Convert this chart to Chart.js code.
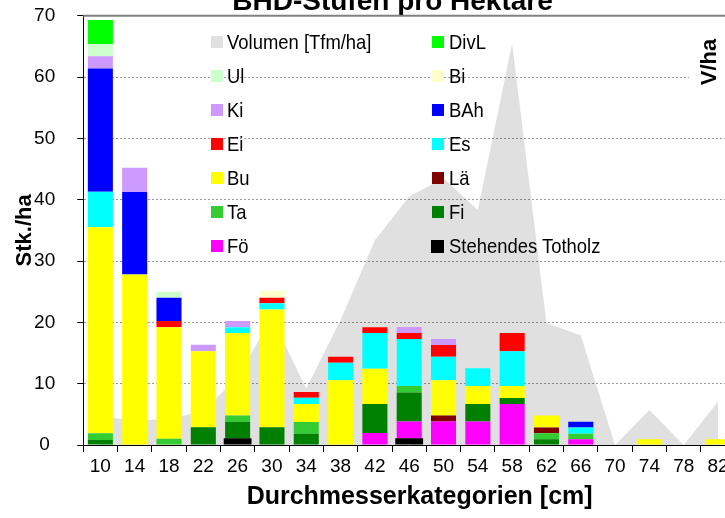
<!DOCTYPE html>
<html><head><meta charset="utf-8">
<script src="https://cdn.jsdelivr.net/npm/chart.js@4/dist/chart.umd.min.js"></script>
<style>
html,body{margin:0;padding:0;width:725px;height:518px;overflow:hidden;background:#fff;}
#wrap{position:absolute;left:0;top:-20px;width:785px;height:538px;}
#legend{position:absolute;left:0;top:0;width:725px;height:518px;pointer-events:none;}
.li{position:absolute;font-family:"Liberation Sans",Arial,sans-serif;font-size:21px;color:#000;white-space:nowrap;line-height:24px;transform:scaleX(0.878);transform-origin:0 50%;}
.sw{position:absolute;width:12px;height:12px;}
#vha{position:absolute;left:689px;top:22px;width:40px;height:80px;background:#fff;}
#vha span{position:absolute;left:50%;top:50%;transform:translate(-50%,-50%) rotate(-90deg);font:bold 22px "Liberation Sans",Arial,sans-serif;color:#000;white-space:nowrap;}
</style></head><body>
<div id="wrap"><canvas id="c" width="785" height="538" style="width:785px;height:538px"></canvas></div>
<div id="legend"></div>
<div id="vha"><span>V/ha</span></div>
<script>
const categories = ['10','14','18','22','26','30','34','38','42','46','50','54','58','62','66','70','74','78','82'];
const volumen  = [4.7,4.0,4.3,5.5,11.1,20.8,9.2,20.4,33.4,40.5,43.5,38.3,65.5,19.9,17.9,0,5.7,0,7.1];
const totholz  = [0,0,0,0,1.1,0,0,0,0,1.1,0,0,0,0,0,0,0,0,0];
const foe      = [0,0,0,0,0,0,0,0,1.95,2.75,3.85,3.85,6.7,0,0.93,0,0,0,0];
const fi       = [0.8,0,0,2.9,2.7,2.9,1.85,0,4.75,4.7,0,2.85,0.95,0.93,0,0,0,0,0];
const ta       = [1.1,0,1.0,0,1.0,0,1.9,0,0,1.05,0,0,0,0.97,0.92,0,0,0,0];
const lae      = [0,0,0,0,0,0,0,0,0,0,0.95,0,0,0.95,0,0,0,0,0];
const bu       = [33.6,27.8,18.2,12.4,13.45,19.2,2.95,10.55,5.75,0,5.75,2.9,1.95,1.95,0,0,0.93,0,0.93];
const es       = [5.8,0,0,0,0.95,1.0,1.0,2.85,5.8,7.7,3.85,2.9,5.7,0,1.0,0,0,0,0];
const ei       = [0,0,1.0,0,0,0.9,0.95,1.0,0.95,0.95,1.9,0,2.95,0,0,0,0,0,0];
const bah      = [20.1,13.45,3.8,0,0,0,0,0,0,0,0,0,0,0,0.95,0,0,0,0];
const ki       = [2.0,3.95,0,1.05,1.0,0,0,0,0,1.0,1.0,0,0,0,0,0,0,0,0];
const bi       = [0,0,0,0,0,1.1,0,0,0,0,0,0,0,0,0,0,0,0,0];
const ul       = [2.0,0,1.0,0,0,0,0,0,0,0,0,0,0,0,0,0,0,0,0];
const divl     = [3.9,0,0,0,0,0,0,0,0,0,0,0,0,0,0,0,0,0,0];
const yTicks   = [0,10,20,30,40,50,60,70];

const SANS = '"Liberation Sans",Arial,sans-serif';

const barSeries = [
  ['Stehendes Totholz', totholz, '#000000'],
  ['Fö', foe, '#FF00FF'],
  ['Fi', fi, '#008000'],
  ['Ta', ta, '#33CC33'],
  ['Lä', lae, '#800000'],
  ['Bu', bu, '#FFFF00'],
  ['Es', es, '#00FFFF'],
  ['Ei', ei, '#FF0000'],
  ['BAh', bah, '#0000FF'],
  ['Ki', ki, '#CC99FF'],
  ['Bi', bi, '#FFFFCC'],
  ['Ul', ul, '#CCFFCC'],
  ['DivL', divl, '#00FF00']
];

const datasets = [{
  label: 'Volumen [Tfm/ha]', type: 'line', data: volumen, yAxisID: 'y2',
  fill: 'origin', backgroundColor: 'rgba(0,0,0,0.12)', borderWidth: 0,
  pointRadius: 0, tension: 0, order: 20, legendColor: '#E0E0E0'
}];
barSeries.forEach(([label, data, color]) => {
  datasets.push({
    label, data, type: 'bar', yAxisID: 'y', backgroundColor: color, borderWidth: 0,
    stack: 's', order: 1, categoryPercentage: label === 'Stehendes Totholz' ? 0.81 : 0.73, barPercentage: 1,
    legendColor: color
  });
});

const topBorder = {
  id: 'topBorder',
  afterDatasetsDraw(chart) {
    const {ctx, chartArea} = chart;
    ctx.save();
    ctx.strokeStyle = '#808080';
    ctx.lineWidth = 2;
    ctx.beginPath();
    ctx.moveTo(chartArea.left, chartArea.top);
    ctx.lineTo(chartArea.right + 2, chartArea.top);
    ctx.stroke();
    ctx.restore();
  }
};

const chart = new Chart(document.getElementById('c'), {
  data: { labels: categories, datasets },
  plugins: [topBorder],
  options: {
    responsive: false, animation: false, devicePixelRatio: 1,
    layout: { padding: 0 },
    plugins: {
      legend: { display: false },
      tooltip: { enabled: false },
      title: {
        display: true, text: 'BHD-Stufen pro Hektare', color: '#000',
        font: { family: SANS, size: 28, weight: 'bold', lineHeight: 1 },
        padding: { top: 8.3, bottom: -0.6 }
      }
    },
    scales: {
      x: {
        stacked: true,
        grid: { offset: true, drawOnChartArea: false, tickLength: 7, color: '#000', tickColor: '#000' },
        border: { color: '#000', width: 1 },
        ticks: { font: { family: SANS, size: 19 }, color: '#000', padding: 3, maxRotation: 0, autoSkip: false },
        title: { display: true, text: '   Durchmesserkategorien [cm]', color: '#000',
          font: { family: SANS, size: 25, weight: 'bold', lineHeight: 1.2 }, padding: { top: 0, bottom: 6 } },
        afterFit: s => { s.height = 73; }
      },
      y: {
        stacked: true, min: 0, max: 70,
        afterBuildTicks: s => { s.ticks = yTicks.map(v => ({ value: v })); },
        grid: {
          color: c => (c.tick && (c.tick.value === 0 || c.tick.value === 70)) ? 'rgba(0,0,0,0)' : '#9a9a9a',
          tickColor: '#000', tickLength: 6, lineWidth: 1
        },
        border: { color: '#000', width: 1, dash: [2, 2] },
        ticks: { font: { family: SANS, size: 19 }, color: '#000', padding: 22, crossAlign: 'center' },
        title: { display: true, text: 'Stk./ha', color: '#000',
          font: { family: SANS, size: 22, weight: 'bold', lineHeight: 1 }, padding: { top: 14 } },
        afterFit: s => { s.width = 83.2; }
      },
      y2: {
        display: true, position: 'right', min: 0, max: 70, stacked: false,
        ticks: { display: false }, grid: { display: false }, border: { display: false },
        afterFit: s => { s.width = 49.8; }
      }
    }
  }
});

// HTML legend built from the chart datasets (two columns, row-major)
const legendOrder = ['Volumen [Tfm/ha]','DivL','Ul','Bi','Ki','BAh','Ei','Es','Bu','Lä','Ta','Fi','Fö','Stehendes Totholz'];
const legendEl = document.getElementById('legend');
legendOrder.forEach((name, i) => {
  const ds = chart.data.datasets.find(d => d.label === name);
  const col = i % 2, row = Math.floor(i / 2);
  const cy = 42.3 + row * 34;
  const sx = col === 0 ? 211 : 431.5;
  const tx = col === 0 ? 227 : 449;
  const sw = document.createElement('div');
  sw.className = 'sw';
  sw.style.left = sx + 'px'; sw.style.top = (cy - 6) + 'px';
  sw.style.background = ds.legendColor;
  if (name === 'Stehendes Totholz') { sw.style.width = '13px'; sw.style.height = '13px'; sw.style.left = (sx - 0.5) + 'px'; sw.style.top = (cy - 6.5) + 'px'; }
  legendEl.appendChild(sw);
  const t = document.createElement('div');
  t.className = 'li';
  t.style.left = tx + 'px'; t.style.top = (cy - 12) + 'px';
  t.textContent = name;
  legendEl.appendChild(t);
});
</script>
</body></html>
